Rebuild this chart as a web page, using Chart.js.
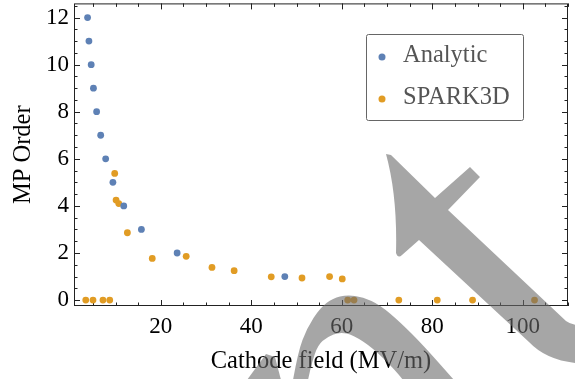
<!DOCTYPE html>
<html><head><meta charset="utf-8">
<script src="https://cdn.jsdelivr.net/npm/chart.js@4"></script>
<style>html,body{margin:0;padding:0;background:#fff}canvas{display:block}</style>
</head><body>
<canvas id="c" width="575" height="379"></canvas>
<script>
// ---- data ----
const seriesNames = ['Analytic', 'SPARK3D'];
const seriesColors = ['#5E81B5', '#E19C24'];
const analyticX = [3.8, 4.1, 4.6, 5.1, 5.8, 6.7, 7.8, 9.4, 11.8, 15.7, 23.6, 47.4];
const analyticY = [12, 11, 10, 9, 8, 7, 6, 5, 4, 3, 2, 1];
const sparkX = [3.4, 5.0, 7.2, 8.7, 9.8, 10.1, 10.7, 12.6, 18.1, 25.6, 31.3, 36.2, 44.4, 51.2, 57.3, 60.1, 61.3, 62.7, 72.6, 81.1, 88.9, 102.6];
const sparkY = [0, 0, 0, 0, 5.38, 4.25, 4.1, 2.86, 1.77, 1.86, 1.39, 1.25, 0.99, 0.94, 1.0, 0.9, 0, 0, 0, 0, 0, 0];
const xTicks = [20, 40, 60, 80, 100];
const yTicks = [0, 2, 4, 6, 8, 10, 12];
const xTitle = 'Cathode field (MV/m)';
const yTitle = 'MP Order';

const FONT = '"Liberation Serif", "Times New Roman", serif';
const toPts = (xs, ys) => xs.map((v, i) => ({x: v, y: ys[i]}));

// frame + inward ticks on all four sides
const framePlugin = {
  id: 'frame',
  beforeDatasetsDraw(chart) {
    const {ctx, chartArea: a, scales: {x, y}} = chart;
    ctx.save();
    ctx.strokeStyle = '#222';
    ctx.lineWidth = 1;
    ctx.strokeRect(a.left + 0.5, a.top + 0.5, a.right - a.left - 1, a.bottom - a.top - 1);
    ctx.beginPath();
    for (let v = 5; v <= x.max; v += 5) {
      const px = Math.round(x.getPixelForValue(v)) + 0.5;
      const len = (v % 20 === 0) ? 6 : 3.5;
      ctx.moveTo(px, a.bottom); ctx.lineTo(px, a.bottom - len);
      ctx.moveTo(px, a.top); ctx.lineTo(px, a.top + len);
    }
    for (let v = 0; v <= y.max; v += 0.5) {
      const py = Math.round(y.getPixelForValue(v)) + 0.5;
      const len = (v % 2 === 0) ? 6 : 3.5;
      ctx.moveTo(a.left, py); ctx.lineTo(a.left + len, py);
      ctx.moveTo(a.right, py); ctx.lineTo(a.right - len, py);
    }
    ctx.stroke();
    ctx.restore();
  }
};

// legend box inside plot
const legendPlugin = {
  id: 'insideLegend',
  afterDraw(chart) {
    const ctx = chart.ctx;
    ctx.save();
    const bx = 366.5, by = 34.5, bw = 157, bh = 86;
    ctx.fillStyle = '#fff';
    ctx.strokeStyle = '#666';
    ctx.lineWidth = 1;
    ctx.beginPath();
    ctx.roundRect(bx, by, bw, bh, 2);
    ctx.fill(); ctx.stroke();
    const rows = [57, 99], base = [62.3, 104];
    ctx.font = '24.5px ' + FONT;
    ctx.textBaseline = 'alphabetic';
    chart.data.datasets.forEach((ds, i) => {
      ctx.fillStyle = ds.backgroundColor;
      ctx.beginPath(); ctx.arc(382, rows[i], 3.5, 0, Math.PI * 2); ctx.fill();
      ctx.fillStyle = '#555';
      ctx.fillText(ds.label, 403, base[i]);
    });
    ctx.restore();
  }
};

// gray arrow overlay (decorative, page pixels)
function smooth(ctx, pts, first) {
  if (first) ctx.moveTo(pts[0][0], pts[0][1]); else ctx.lineTo(pts[0][0], pts[0][1]);
  for (let i = 1; i < pts.length - 1; i++) {
    const mx = (pts[i][0] + pts[i + 1][0]) / 2, my = (pts[i][1] + pts[i + 1][1]) / 2;
    ctx.quadraticCurveTo(pts[i][0], pts[i][1], mx, my);
  }
  const l = pts[pts.length - 1];
  ctx.lineTo(l[0], l[1]);
}
const overlayPlugin = {
  id: 'overlay',
  afterDraw(chart) {
    const ctx = chart.ctx;
    ctx.save();
    ctx.fillStyle = 'rgba(106,106,106,0.6)';
    // arrow
    ctx.beginPath();
    ctx.moveTo(386, 154);
    ctx.lineTo(391, 155);
    ctx.lineTo(435, 198);
    ctx.lineTo(470, 167);
    ctx.lineTo(480, 177);
    ctx.lineTo(448, 210);
    ctx.lineTo(566, 321);
    ctx.quadraticCurveTo(570, 324, 576, 325);
    ctx.lineTo(576, 363);
    ctx.quadraticCurveTo(546, 360, 529, 342);
    ctx.lineTo(419, 240);
    ctx.lineTo(402, 255);
    ctx.quadraticCurveTo(398, 259, 396, 253);
    ctx.quadraticCurveTo(397.5, 196, 386, 154);
    ctx.closePath();
    ctx.fill();
    // arch
    ctx.beginPath();
    smooth(ctx, [[293, 380], [298, 352], [307, 328], [320, 308], [333, 298], [347, 295], [363, 297], [380, 305], [400, 322], [423, 345], [454, 380]], true);
    smooth(ctx, [[403, 380], [397, 372], [373, 348], [353, 335], [340, 332], [327, 337], [318, 345], [312, 362], [308, 380]], false);
    ctx.closePath();
    ctx.fill();
    // small piece bottom-left
    ctx.beginPath();
    ctx.moveTo(247, 380); ctx.lineTo(266, 354); ctx.lineTo(275, 357); ctx.lineTo(281, 380);
    ctx.closePath();
    ctx.fill();
    ctx.restore();
  }
};

new Chart(document.getElementById('c'), {
  type: 'scatter',
  data: {
    datasets: [
      {label: seriesNames[0], data: toPts(analyticX, analyticY), backgroundColor: seriesColors[0], pointRadius: 3.4, pointBorderWidth: 0, pointHoverRadius: 3.4},
      {label: seriesNames[1], data: toPts(sparkX, sparkY), backgroundColor: seriesColors[1], pointRadius: 3.4, pointBorderWidth: 0, pointHoverRadius: 3.4}
    ]
  },
  options: {
    responsive: false,
    devicePixelRatio: 1,
    animation: false,
    layout: {padding: {top: 2, right: 7, left: 0, bottom: 0}},
    plugins: {legend: {display: false}, tooltip: {enabled: false}},
    scales: {
      x: {
        type: 'linear', min: 0.8, max: 110,
        afterBuildTicks: s => { s.ticks = xTicks.map(v => ({value: v})); },
        afterFit: s => { s.height = 73; s.paddingLeft = 0; s.paddingRight = 0; },
        grid: {display: false, drawTicks: false},
        border: {display: false},
        ticks: {color: '#000', font: {family: FONT, size: 23}, padding: 7, maxRotation: 0, autoSkip: false},
        title: {display: true, text: xTitle, color: '#000', font: {family: FONT, size: 24.5}, padding: {top: 0, bottom: 2.6}}
      },
      y: {
        type: 'linear', min: -0.25, max: 12.6,
        afterBuildTicks: s => { s.ticks = yTicks.map(v => ({value: v})); },
        afterFit: s => { s.width = 74; s.paddingTop = 0; s.paddingBottom = 0; },
        grid: {display: false, drawTicks: false},
        border: {display: false},
        ticks: {color: '#000', font: {family: FONT, size: 23}, padding: 5, autoSkip: false},
        title: {display: true, text: yTitle, color: '#000', font: {family: FONT, size: 24.5}, padding: {top: 8.5, bottom: 0}}
      }
    }
  },
  plugins: [framePlugin, legendPlugin, overlayPlugin]
});
</script>
</body></html>
